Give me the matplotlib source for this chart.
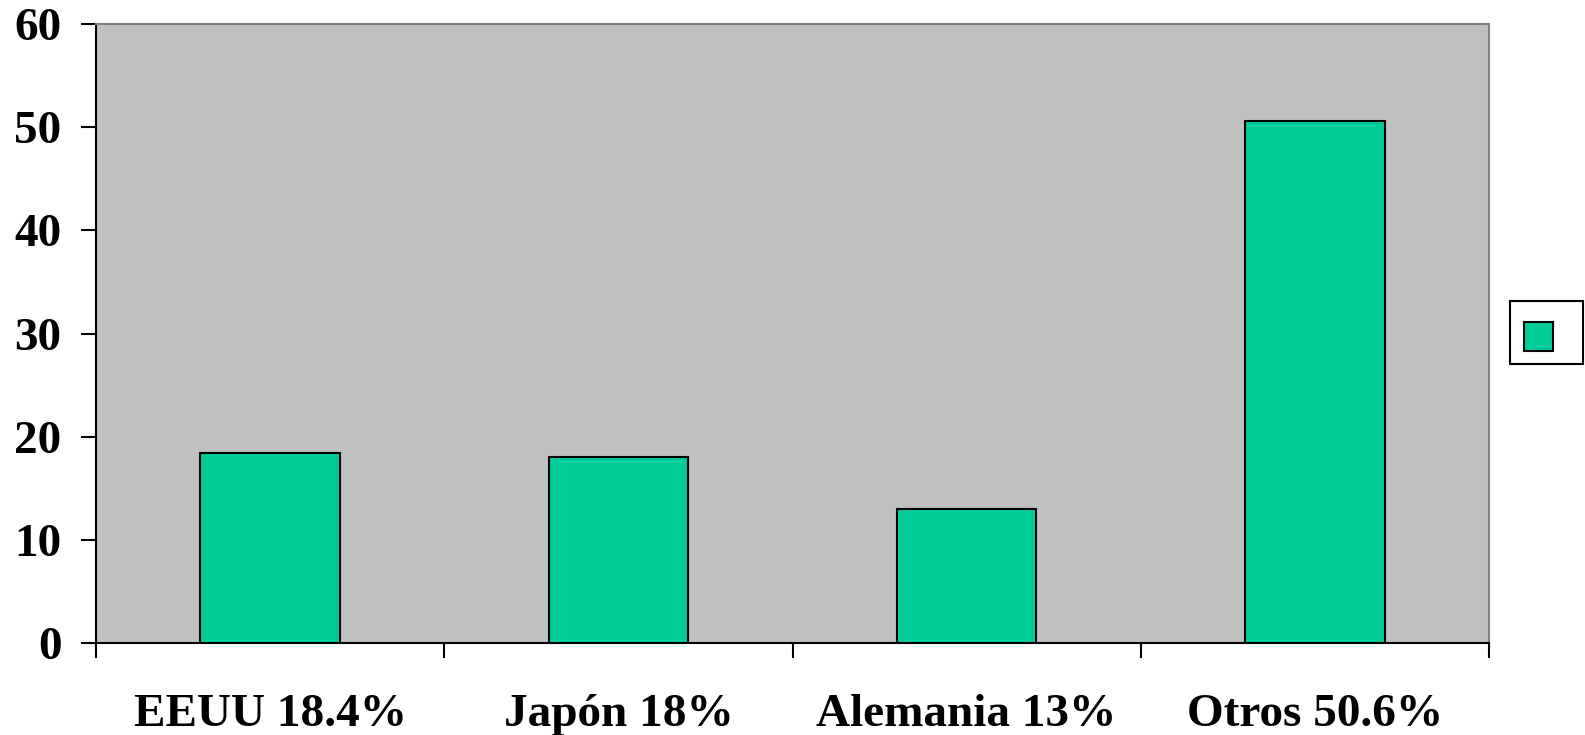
import matplotlib
matplotlib.use('Agg')
from matplotlib import pyplot as plt
from matplotlib.patches import Rectangle
import numpy as np

# data
categories = ['EEUU 18.4%', 'Japón 18%', 'Alemania 13%', 'Otros 50.6%']
values = [18.4, 18, 13, 50.6]
yticks = [0, 10, 20, 30, 40, 50, 60]

BAR_COLOR = '#00CC99'
BG_COLOR = '#C0C0C0'

W, H = 1585, 735

plt.rcParams['font.family'] = ['Liberation Serif', 'DejaVu Serif']
plt.rcParams['font.weight'] = 'bold'

fig = plt.figure(figsize=(W / 100, H / 100), dpi=100)
# axes box in pixels: left 96, right 1489, top 24, bottom 643
ax = fig.add_axes([96 / W, 1 - 643 / H, (1489 - 96) / W, (643 - 24) / H])
ax.set_facecolor(BG_COLOR)

x = np.arange(len(categories))
ax.bar(x, values, width=0.40, color=BAR_COLOR, edgecolor='black', linewidth=1.5, zorder=3)

ax.set_xlim(-0.5, len(categories) - 0.5)
ax.set_ylim(0, 60)
ax.set_yticks(yticks)
ax.set_yticklabels([str(t) for t in yticks], fontsize=34, fontweight='bold')

# category labels between boundary ticks
ax.set_xticks(x)
ax.set_xticklabels(categories, fontsize=34, fontweight='bold')
ax.tick_params(axis='x', which='major', length=0, pad=37)
ax.set_xticks(np.arange(-0.5, len(categories), 1.0), minor=True)
ax.tick_params(axis='x', which='minor', length=11, width=1.5, direction='out', color='black')
ax.tick_params(axis='y', length=11, width=1.5, direction='out', pad=14)

for side in ['left', 'bottom']:
    ax.spines[side].set_color('black')
    ax.spines[side].set_linewidth(1.5)
for side in ['top', 'right']:
    ax.spines[side].set_color('#808080')
    ax.spines[side].set_linewidth(1.5)

# legend box with only a colour key
def px_rect(x0, y0, x1, y1, **kw):
    return Rectangle((x0 / W, 1 - y1 / H), (x1 - x0) / W, (y1 - y0) / H,
                     transform=fig.transFigure, **kw)

fig.patches.append(px_rect(1510, 301, 1583, 364, facecolor='white', edgecolor='black', linewidth=1.5))
fig.patches.append(px_rect(1524, 322, 1553, 351, facecolor=BAR_COLOR, edgecolor='black', linewidth=1.5))

fig.savefig('out.png', dpi=100)
